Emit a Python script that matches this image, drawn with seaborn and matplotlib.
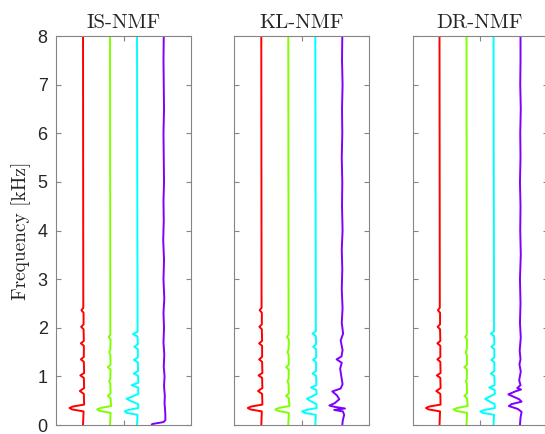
import numpy as np
import pandas as pd
import seaborn as sns
import matplotlib.pyplot as plt


titles = ['IS-NMF', 'KL-NMF', 'DR-NMF']
colors = ['#ff0000', '#80ff00', '#00ffff', '#8000ff']
ytick_vals = [0, 1, 2, 3, 4, 5, 6, 7, 8]

# spectral templates: frequency [kHz] and horizontal offset
red_f = [0.00, 0.28, 0.32, 0.35, 0.38, 0.42, 0.64, 0.70, 0.76, 0.97, 1.02, 1.07,
         1.30, 1.35, 1.40, 1.63, 1.68, 1.73, 1.97, 2.02, 2.07, 2.31, 2.36, 2.41, 8.00]
red_v = [0.00, 0.02, -0.40, -0.50, -0.38, 0.04, 0.03, -0.12, 0.04, 0.03, -0.10, 0.04,
         0.03, -0.08, 0.03, 0.03, -0.08, 0.03, 0.02, -0.07, 0.02, 0.02, -0.06, 0.01, 0.00]

green_f = [0.00, 0.25, 0.29, 0.32, 0.35, 0.39, 0.55, 0.60, 0.65, 0.85, 0.90, 0.95,
           1.14, 1.19, 1.24, 1.45, 1.50, 1.55, 1.76, 1.81, 1.86, 8.00]
green_v = [0.00, 0.02, -0.38, -0.48, -0.35, 0.04, 0.02, -0.08, 0.02, 0.01, -0.03, 0.01,
           0.02, -0.08, 0.02, 0.01, -0.03, 0.01, 0.02, -0.05, 0.01, 0.00]

cyan_is_f = [0.00, 0.21, 0.25, 0.28, 0.31, 0.35, 0.43, 0.50, 0.54, 0.58, 0.64,
             0.77, 0.82, 0.87, 1.01, 1.06, 1.11, 1.29, 1.34, 1.39, 1.56, 1.61, 1.66,
             1.82, 1.87, 1.92, 8.00]
cyan_is_v = [0.00, 0.02, -0.38, -0.46, -0.32, 0.05, 0.04, -0.25, -0.39, -0.20, 0.05,
             0.04, -0.20, 0.05, 0.04, -0.12, 0.04, 0.03, -0.12, 0.03, 0.03, -0.10, 0.03,
             0.02, -0.15, 0.02, 0.00]

cyan_f = [0.00, 0.21, 0.25, 0.28, 0.31, 0.35, 0.43, 0.50, 0.54, 0.58, 0.64,
          0.72, 0.77, 0.82, 1.01, 1.06, 1.11, 1.29, 1.34, 1.39, 1.56, 1.61, 1.66,
          1.83, 1.88, 1.93, 8.00]
cyan_v = [0.00, 0.02, -0.40, -0.49, -0.33, 0.05, 0.04, -0.20, -0.31, -0.15, 0.05,
          0.04, -0.16, 0.04, 0.03, -0.10, 0.03, 0.03, -0.08, 0.03, 0.03, -0.08, 0.03,
          0.02, -0.10, 0.02, 0.00]

purple_is_f = [0.00, 0.02, 0.06, 0.10, 0.20, 0.30, 0.45, 0.60, 0.80, 1.00, 1.20, 1.45,
               1.70, 2.00, 2.30, 2.60, 3.00, 3.40, 3.80, 4.20, 4.60, 5.00, 5.50, 6.00,
               6.50, 7.00, 7.50, 8.00]
purple_is_v = [-0.46, -0.44, -0.02, 0.05, 0.05, 0.04, 0.02, 0.03, 0.00, 0.02, -0.01, 0.01,
               -0.02, 0.00, -0.02, 0.01, -0.02, 0.00, -0.03, -0.01, -0.02, 0.00, -0.01, -0.02,
               0.00, -0.01, -0.02, -0.01]

purple_kl_f = [0.00, 0.10, 0.21, 0.28, 0.31, 0.34, 0.37, 0.40, 0.45, 0.53, 0.61, 0.69,
               0.75, 0.84, 0.98, 1.16, 1.28, 1.35, 1.41, 1.54, 1.74, 1.88, 2.10, 2.40,
               2.80, 3.20, 3.60, 4.00, 4.50, 5.00, 5.50, 6.00, 6.50, 7.00, 7.50, 8.00]
purple_kl_v = [0.00, 0.02, 0.07, 0.02, -0.30, 0.10, -0.25, -0.48, -0.28, -0.11, -0.20, -0.37,
               -0.06, 0.01, -0.03, -0.08, -0.02, -0.21, -0.03, 0.01, -0.06, 0.03, -0.02, 0.01,
               -0.02, 0.00, -0.02, 0.01, -0.01, 0.00, -0.02, 0.00, -0.01, 0.01, -0.01, 0.00]

purple_dr_f = [0.00, 0.15, 0.27, 0.33, 0.39, 0.43, 0.48, 0.53, 0.58, 0.63, 0.69, 0.73,
               0.76, 0.82, 0.92, 1.10, 1.25, 1.35, 1.53, 1.80, 2.10, 2.50, 3.00, 3.50,
               4.00, 4.50, 5.00, 5.50, 6.00, 6.50, 7.00, 7.50, 8.00]
purple_dr_v = [-0.02, 0.00, 0.04, -0.10, -0.43, -0.33, 0.04, -0.05, -0.25, -0.45, -0.20, 0.02,
               -0.12, 0.00, -0.05, 0.01, -0.04, 0.00, -0.03, 0.01, -0.02, 0.00, -0.02, 0.01,
               -0.01, 0.00, -0.02, 0.00, -0.01, 0.01, -0.01, 0.00, 0.00]

panels = [
    [(red_f, red_v), (green_f, green_v), (cyan_is_f, cyan_is_v), (purple_is_f, purple_is_v)],
    [(red_f, red_v), (green_f, green_v), (cyan_f, cyan_v), (purple_kl_f, purple_kl_v)],
    [(red_f, red_v), (green_f, green_v), (cyan_f, cyan_v), (purple_dr_f, purple_dr_v)],
]

sns.set_style('ticks')
plt.rcParams['font.family'] = ['Liberation Sans', 'DejaVu Sans']

fig = plt.figure(figsize=(5.45, 4.34), dpi=100)
lefts = [0.1028, 0.4299, 0.7569]
edge = '#858585'

for i, (title, comps) in enumerate(zip(titles, panels)):
    ax = fig.add_axes([lefts[i], 0.0207, 0.2477, 0.8963])
    rows = []
    for k, (f, v) in enumerate(comps):
        for ff, vv in zip(f, v):
            rows.append({'freq': ff, 'pos': k + 1 + vv, 'comp': k})
    df = pd.DataFrame(rows)
    sns.lineplot(data=df, x='pos', y='freq', hue='comp', palette=colors,
                 sort=False, estimator=None, legend=False, lw=1.4, ax=ax)
    ax.set_xlim(0, 5)
    ax.set_ylim(0, 8)
    ax.set_xticks([2.5])
    ax.set_xticklabels([])
    ax.set_yticks(ytick_vals)
    if i == 0:
        ax.set_yticklabels([str(t) for t in ytick_vals])
        ax.set_ylabel('Frequency [kHz]', fontfamily='cmr10', fontsize=14, labelpad=5)
    else:
        ax.set_yticklabels([])
        ax.set_ylabel('')
    ax.set_xlabel('')
    ax.tick_params(direction='in', length=3.5, width=0.8, color=edge,
                   top=True, right=True, labelsize=13, labelcolor='#262626', pad=6)
    for s in ax.spines.values():
        s.set_color(edge)
        s.set_linewidth(0.8)
    ax.set_title(title, fontfamily='cmr10', fontsize=15, pad=6)

fig.savefig('out.png', dpi=100)
